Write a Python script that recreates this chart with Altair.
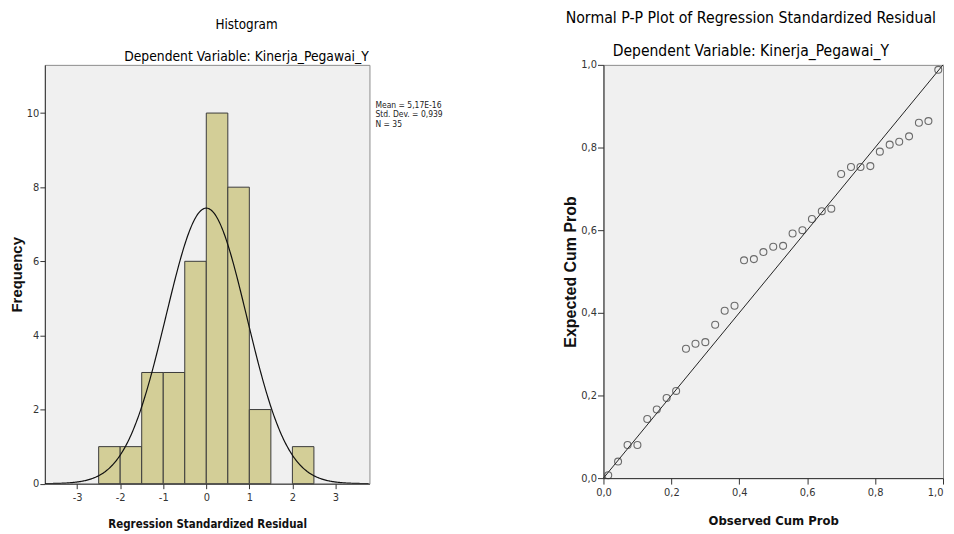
import altair as alt
import pandas as pd

NARROW = "Liberation Sans Narrow, DejaVu Sans Condensed, Liberation Sans, Arial"
BOLD = "Liberation Sans, Arial"

# ---- Histogram data ----
bin_start = [-2.5, -2.0, -1.5, -1.0, -0.5, 0.0, 0.5, 1.0, 1.5, 2.0]
bin_end = [-2.0, -1.5, -1.0, -0.5, 0.0, 0.5, 1.0, 1.5, 2.0, 2.5]
frequency = [1, 1, 3, 3, 6, 10, 8, 2, 0, 1]

resid_mean = 5.17e-16
resid_sd = 0.939
n_obs = 35
bin_width = 0.5
stats_lines = ["Mean = 5,17E-16", "Std. Dev. = 0,939", "N = 35"]

x_ticks = [-3, -2, -1, 0, 1, 2, 3]
y_ticks = [0, 2, 4, 6, 8, 10]

# ---- P-P plot data ----
observed_cum = [0.014, 0.043, 0.071, 0.100, 0.129, 0.157, 0.186, 0.214, 0.243,
                0.271, 0.300, 0.329, 0.357, 0.386, 0.414, 0.443, 0.471, 0.500,
                0.529, 0.557, 0.586, 0.614, 0.643, 0.671, 0.700, 0.729, 0.757,
                0.786, 0.814, 0.843, 0.871, 0.900, 0.929, 0.957, 0.986]
expected_cum = [0.007, 0.040, 0.080, 0.080, 0.143, 0.166, 0.194, 0.211, 0.313,
                0.325, 0.329, 0.371, 0.405, 0.417, 0.527, 0.530, 0.547, 0.560,
                0.562, 0.592, 0.600, 0.627, 0.646, 0.652, 0.736, 0.753, 0.753,
                0.755, 0.790, 0.807, 0.814, 0.827, 0.860, 0.864, 0.988]
pp_ticks = [0.0, 0.2, 0.4, 0.6, 0.8, 1.0]
diag_ends = [0.0, 1.0]

comma_fmt = "replace(format(datum.value, '.1f'), '.', ',')"
int_fmt = "datum.value < 0 ? '-' + abs(datum.value) : '' + datum.value"

hist_df = pd.DataFrame({"bin_start": bin_start, "bin_end": bin_end, "frequency": frequency})
hist_df = hist_df[hist_df["frequency"] > 0]

xs = alt.Scale(domain=[-3.75, 3.79], nice=False, zero=False)
ys = alt.Scale(domain=[0, 11.30], nice=False)

bars = alt.Chart(hist_df).mark_rect(fill="#d3ce97", stroke="#3a3a3a", strokeWidth=1).encode(
    x=alt.X("bin_start:Q", scale=xs,
            axis=alt.Axis(values=x_ticks, labelExpr=int_fmt, tickSize=5, labelPadding=3,
                          title="Regression Standardized Residual", titlePadding=15.5,
                          titleFont=NARROW, titleFontSize=11.5, titleFontWeight="bold")),
    x2="bin_end",
    y=alt.Y("frequency:Q", scale=ys,
            axis=alt.Axis(values=y_ticks, tickSize=5, labelPadding=1,
                          title="Frequency", titlePadding=2,
                          titleFont=BOLD, titleFontSize=15, titleFontWeight="bold")),
    y2=alt.datum(0),
)

curve = alt.Chart(alt.sequence(-3.75, 3.79, 0.02, as_="z")).transform_calculate(
    f=f"{n_obs * bin_width} * exp(-0.5 * pow((datum.z - {resid_mean}) / {resid_sd}, 2)) / ({resid_sd} * sqrt(2 * PI))"
).mark_line(color="#111111", strokeWidth=1.2, clip=True).encode(
    x=alt.X("z:Q", scale=xs), y=alt.Y("f:Q", scale=ys)
)

stats_df = pd.DataFrame({"label": ["\n".join(stats_lines)]})
stats = alt.Chart(stats_df).mark_text(
    align="left", baseline="top", font=NARROW, fontSize=8.5, lineHeight=9.7,
    lineBreak="\n", color="#222222"
).encode(x=alt.value(332), y=alt.value(36), text="label:N")

hist = alt.layer(bars, curve, stats).properties(
    width=326, height=420.6,
    title=alt.TitleParams(
        "Histogram", subtitle="Dependent Variable: Kinerja_Pegawai_Y",
        anchor="middle", frame="group", dx=39.5, offset=1,
        font=NARROW, fontSize=13.4, fontWeight="normal", color="#000000",
        subtitleFont=NARROW, subtitleFontSize=13.8, subtitleColor="#000000",
        subtitlePadding=19,
    ),
)

pp_df = pd.DataFrame({"observed": observed_cum, "expected": expected_cum})
ps = alt.Scale(domain=[0, 1], nice=False)

points = alt.Chart(pp_df).mark_point(shape="circle", filled=False, size=49,
                                     stroke="#333333", strokeWidth=1.1).encode(
    x=alt.X("observed:Q", scale=ps,
            axis=alt.Axis(values=pp_ticks, labelExpr=comma_fmt, tickSize=6, labelPadding=2,
                          labelAlign=alt.condition("datum.value == 1", alt.value("right"), alt.value("center")),
                          title="Observed Cum Prob", titlePadding=17.5,
                          titleFont=NARROW, titleFontSize=13, titleFontWeight="bold")),
    y=alt.Y("expected:Q", scale=ps,
            axis=alt.Axis(values=pp_ticks, labelExpr=comma_fmt, tickSize=6, labelPadding=1,
                          title="Expected Cum Prob", titlePadding=2,
                          titleFont=BOLD, titleFontSize=16, titleFontWeight="bold")),
)

diag = alt.Chart(pd.DataFrame({"p": diag_ends})).mark_line(color="#222222", strokeWidth=1).encode(
    x=alt.X("p:Q", scale=ps), y=alt.Y("p:Q", scale=ps)
)

pp = alt.layer(diag, points).properties(
    width=341, height=415,
    title=alt.TitleParams(
        "Normal P-P Plot of Regression Standardized Residual",
        subtitle="Dependent Variable: Kinerja_Pegawai_Y",
        anchor="middle", frame="group", dx=-22.5, offset=-1.8,
        font=NARROW, fontSize=15.8, fontWeight="normal", color="#000000",
        subtitleFont=NARROW, subtitleFontSize=15.6, subtitleColor="#000000",
        subtitlePadding=17,
    ),
)

chart = alt.concat(hist, pp, columns=2, spacing=118).configure_view(
    stroke="#8c8c8c", strokeWidth=1, fill="#f0f0f0"
).configure_axis(
    grid=False, domainColor="#333333", tickColor="#333333", labelColor="#333333",
    labelFont=NARROW, labelFontSize=11, titleColor="#111111",
).properties(padding={"left": 0, "top": 0, "right": 0, "bottom": 0})

chart.save("out.html", embed_options={"renderer": "svg", "actions": False})
